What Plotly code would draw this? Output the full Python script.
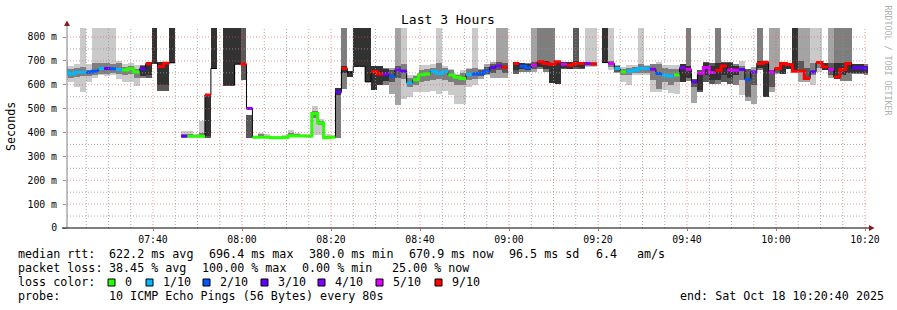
import plotly.graph_objects as go
from datetime import datetime, timedelta

# ---------------- data (ms) ----------------
T = 900  # value beyond the top of the graph (off scale)
STEP_S = 80
START = datetime(2025, 10, 18, 7, 19, 40)   # first 80 s step (partly clipped)
VIEW = ["2025-10-18 07:20:40", "2025-10-18 10:20:40"]

MED = [657, 645, 652, 652, 652, 657, 668, 668, 667, 664, 662, 667, 653, 667, 688, 690, 676, 690, 692, None,
       384, 384, 384, 384, 557, 668, None, 598, 598, 686, 686, 501, 380, 380, 380, 378, 378, 379, 386, 385,
       385, 385, 480, 440, 378, 380, 569, 668, 650, 677, 677, 612, 656, 645, 645, 636, 662, 657, 607, 621,
       642, 645, 657, 647, 654, 641, 631, 626, 643, 645, 647, 657, 672, 679, 673, None, 689, 678, 671, 682,
       696, 689, 686, 696, 686, 682, 689, 689, 689, 687, None, 693, 689, 668, 654, 657, 661, 668, 668, 665,
       647, 640, 637, 641, 671, 664, 612, 648, 672, 651, 661, 679, 662, 661, 664, 622, 654, 689, 694, 653,
       668, 689, 685, 657, 658, 626, 654, 693, 675, 664, 632, 664, 689, 671, 671, 668]
LOSS = [1, 1, 1, 1, 2, 2, 1, 3, 2, 1, 0, 0, 0, 3, 9, 10, 9, 9, 10, None,
        3, 0, 0, 0, 9, 10, None, 10, 10, 10, 9, 4, 0, 0, 0, 0, 0, 0, 0, 0,
        0, 0, 0, 0, 0, 0, 3, 9, 10, 10, 10, 10, 9, 9, 4, 2, 4, 3, 1, 0,
        0, 0, 1, 1, 1, 0, 0, 0, 1, 2, 2, 2, 3, 4, 9, None, 9, 2, 2, 5,
        9, 9, 9, 9, 5, 9, 9, 9, 4, 9, None, 10, 5, 1, 0, 1, 1, 1, 1, 4,
        2, 1, 1, 0, 4, 5, 3, 5, 5, 5, 9, 9, 5, 5, 3, 2, 4, 9, 9, 5,
        9, 9, 9, 9, 9, 9, 3, 9, 9, 5, 9, 9, 9, 3, 3, 3]
LO = [620, 612, 590, 570, 610, 630, 640, 635, 640, 625, 610, 612, 594, 627, 627, 690, 572, 572, 692, None,
      380, 378, 380, 378, 377, 668, None, 598, 598, 686, 620, 378, 378, 380, 378, 376, 376, 377, 380, 380,
      380, 380, 388, 389, 376, 378, 377, 584, 634, 677, 677, 612, 578, 600, 601, 563, 514, 540, 549, 570,
      570, 570, 575, 560, 575, 556, 521, 521, 591, 600, 626, 640, 630, 629, 629, None, 647, 654, 654, 654,
      668, 654, 607, 602, 668, 665, 668, 668, 675, 675, None, 693, 660, 650, 612, 601, 640, 640, 640, 570,
      570, 577, 565, 563, 612, 615, 525, 570, 612, 605, 605, 612, 605, 598, 556, 531, 518, 661, 549, 570,
      647, 647, 668, 654, 612, 612, 598, 654, 660, 629, 626, 615, 615, 643, 643, 640]
HI = [695, 680, 685, T, 688, T, T, T, T, 699, 685, 690, 683, 683, 697, T, 697, 697, T, None,
      408, 408, 395, 447, 560, T, None, T, T, T, T, 473, 385, 400, 393, 384, 385, 390, 410, 398,
      393, 388, 510, 455, 395, 390, 585, T, 658, T, T, T, 678, 678, 672, 672, T, T, 640, 640,
      682, 682, 685, T, 680, 668, 645, 660, 671, T, 668, 689, 695, T, T, None, 696, 693, 693, T,
      T, T, T, 700, 696, 696, T, 696, T, T, None, T, T, 682, 675, 682, 682, T, 682, 689,
      696, 682, 682, 682, 689, T, 626, 660, 696, 690, T, 696, 696, 689, 699, 668, 675, T, 694, T,
      T, 696, 693, T, T, T, T, T, 693, T, T, T, T, 689, 689, 685]
ILO = [640, 630, 632, 635, 637, 640, 645, 645, 648, 645, 640, 645, 630, 635, 640, 690, 600, 600, 692, None,
       382, 382, 382, 382, 385, 668, None, 598, 598, 686, 686, 400, 379, 386, 379, 377, 377, 378, 384, 382,
       382, 382, 460, 430, 377, 379, 555, 650, 634, 677, 677, 612, 578, 600, 615, 610, 630, 625, 590, 600,
       610, 615, 620, 625, 620, 610, 600, 600, 620, 625, 635, 645, 650, 660, 650, None, 660, 665, 660, 665,
       675, 665, 607, 602, 670, 668, 675, 672, 680, 680, None, 693, 675, 655, 640, 640, 648, 650, 650, 619,
       584, 610, 600, 610, 612, 630, 591, 580, 640, 620, 620, 640, 630, 640, 620, 549, 600, 670, 549, 590,
       650, 647, 668, 654, 654, 626, 640, 670, 660, 640, 626, 640, 650, 650, 650, 650]
IHI = [670, 665, 670, 675, 662, 690, 690, 690, 688, 690, 675, 680, 665, 680, 695, T, 697, 697, T, None,
       395, 392, 390, 398, 557, T, None, T, T, T, 686, 400, 383, 395, 386, 381, 381, 384, 400, 392,
       390, 386, 490, 450, 385, 386, 585, 680, 658, T, T, T, 678, 678, 665, 660, 680, 685, 630, 635,
       660, 665, 670, 690, 670, 660, 640, 650, 665, 670, 660, 675, 685, 695, 690, None, 696, 690, 688, 695,
       700, 700, 690, 700, 694, 694, 698, 694, 695, 695, None, T, 700, 678, 668, 670, 675, 685, 678, 685,
       685, 670, 665, 665, 689, 680, 626, 650, 690, 680, 690, 690, 690, 680, 680, 668, 654, 700, 694, 660,
       670, 696, 693, T, 700, 670, 690, 700, 693, 690, 690, 690, 695, 685, 685, 680]
SHADE = [0, 0, 0, 0, 0, 0, 0, 0, 0, 0, 0, 0, 0, 2, 3, 4, 3, 3, 4, None,
         0, 0, 0, 0, 3, 4, None, 4, 4, 4, 3, 3, 0, 0, 0, 0, 0, 0, 0, 0,
         0, 0, 0, 0, 0, 0, 2, 2, 4, 4, 4, 4, 4, 4, 2, 1, 1, 0, 0, 0,
         0, 0, 0, 0, 0, 0, 0, 0, 0, 0, 1, 1, 1, 1, 1, None, 3, 2, 2, 1,
         2, 2, 2, 3, 3, 3, 3, 3, 0, 0, None, 4, 0, 1, 0, 0, 0, 0, 0, 0,
         0, 0, 0, 0, 3, 2, 1, 3, 3, 3, 2, 3, 3, 2, 0, 1, 1, 2, 4, 1,
         1, 4, 4, 4, 1, 1, 0, 0, 3, 1, 2, 2, 2, 2, 2, 2]

GREYS = ["#cacaca", "#a4a4a4", "#7e7e7e", "#585858", "#323232"]
LOSS_LEVELS = [0, 1, 2, 3, 4, 5, 9]
LOSS_COLORS = ["#26ff00", "#00b8ff", "#0059ff", "#5e00ff", "#7e00ff", "#dd00ff", "#ff0000"]
LOSS_LABELS = ["0", "1/10", "2/10", "3/10", "4/10", "5/10", "9/10"]

Y_TICKS = [0, 0.1, 0.2, 0.3, 0.4, 0.5, 0.6, 0.7, 0.8]
Y_TICKTEXT = ["0", "100 m", "200 m", "300 m", "400 m", "500 m", "600 m", "700 m", "800 m"]
Y_MAX = 0.8377

STATS_RTT = ["median rtt:", "622.2 ms avg", "696.4 ms max", "380.0 ms min", "670.9 ms now", "96.5 ms sd", "6.4", "am/s"]
STATS_LOSS = ["packet loss:", "38.45 % avg", "100.00 % max", "0.00 % min", "25.00 % now"]
PROBE = "10 ICMP Echo Pings (56 Bytes) every 80s"
END_TEXT = "end: Sat Oct 18 10:20:40 2025"

# ---------------- helpers ----------------
N = len(MED)
starts = [START + timedelta(seconds=STEP_S * k) for k in range(N + 1)]
centers = [START + timedelta(seconds=STEP_S * k + STEP_S / 2) for k in range(N)]

L, R, TOP, BOT = 67, 868, 28, 228
W, H = 897, 310


def px(x):
    return (x - L) / (R - L)


def py(y):
    return (BOT - y) / (BOT - TOP)


def level_of(loss):
    if loss is None:
        return None
    for i, lv in enumerate(LOSS_LEVELS):
        if loss <= lv:
            return i
    return None


def band(lo, hi, shade_idx):
    xs, bases, ys, cols = [], [], [], []
    for k in range(N):
        if lo[k] is None or hi[k] is None or hi[k] <= lo[k]:
            continue
        xs.append(centers[k])
        bases.append(lo[k] / 1000)
        ys.append((hi[k] - lo[k]) / 1000)
        cols.append(GREYS[shade_idx[k]])
    return go.Bar(x=xs, y=ys, base=bases, width=STEP_S * 1000,
                  marker=dict(color=cols, line=dict(width=0)),
                  hoverinfo="skip", showlegend=False)


def step_runs(mask):
    xs, ys = [], []
    k = 0
    while k < N:
        if mask(k):
            j = k
            while j + 1 < N and mask(j + 1):
                j += 1
            for i in range(k, j + 1):
                xs.append(starts[i])
                ys.append(MED[i] / 1000)
            xs.append(starts[j + 1])
            ys.append(MED[j] / 1000)
            xs.append(None)
            ys.append(None)
            k = j + 1
        else:
            k += 1
    return xs, ys


fig = go.Figure()

outer_shade = [s if s is not None else 0 for s in SHADE]
inner_shade = [min(s + 2, 4) for s in outer_shade]
fig.add_trace(band(LO, HI, outer_shade))
fig.add_trace(band(ILO, IHI, inner_shade))

bx, by = step_runs(lambda k: MED[k] is not None)
fig.add_trace(go.Scatter(x=bx, y=by, mode="lines", line=dict(color="#000000", width=1, shape="hv"),
                         hoverinfo="skip", showlegend=False, connectgaps=False))

for li, col in enumerate(LOSS_COLORS):
    cx, cy = step_runs(lambda k, li=li: MED[k] is not None and level_of(LOSS[k]) == li)
    if cx:
        fig.add_trace(go.Scatter(x=cx, y=cy, mode="lines", line=dict(color=col, width=3, shape="hv"),
                                 hoverinfo="skip", showlegend=False, connectgaps=False))

MAJOR = "rgba(235,80,80,0.6)"
MINOR = "rgba(150,150,150,0.8)"
DASH = "1px,2px"

fig.update_layout(
    width=W, height=H,
    margin=dict(l=L, r=W - R, t=TOP, b=H - BOT, pad=0),
    paper_bgcolor="white", plot_bgcolor="white",
    barmode="overlay", bargap=0, showlegend=False,
    font=dict(family="DejaVu Sans Mono", size=10, color="#000000"),
    xaxis=dict(type="date", range=VIEW, tickformat="%H:%M", dtick=1200000,
               tick0="2025-10-18 07:40:00", showgrid=False,
               zeroline=False, showline=False, ticks="outside", ticklen=2,
               tickcolor="rgba(220,60,60,0.8)", tickfont=dict(size=9.8), fixedrange=True),
    yaxis=dict(range=[0, Y_MAX], tickvals=Y_TICKS, ticktext=Y_TICKTEXT, showgrid=False,
               zeroline=False, showline=False, ticks="outside", ticklen=3,
               tickcolor="rgba(120,120,120,0.8)", tickfont=dict(size=9.8),
               ticklabelstandoff=4, fixedrange=True),
)

shapes = []
# grid drawn above the smoke, as rrdtool does (5 min / 50 ms minor, 20 min / 100 ms major)
g = datetime(2025, 10, 18, 7, 25, 0)
gend = datetime(2025, 10, 18, 10, 20, 40)
while g <= gend:
    major = (g.minute % 20 == 0)
    shapes.append(dict(type="line", xref="x", yref="paper", x0=g, x1=g, y0=0, y1=1, layer="above",
                       line=dict(color=MAJOR if major else MINOR, width=1, dash=DASH)))
    g += timedelta(minutes=5)
for i in range(1, 17):
    v = i * 0.05
    major = (i % 2 == 0)
    shapes.append(dict(type="line", xref="paper", yref="y", x0=0, x1=1, y0=v, y1=v, layer="above",
                       line=dict(color=MAJOR if major else MINOR, width=1, dash=DASH)))

shapes += [
    dict(type="line", xref="paper", yref="paper", x0=px(67), x1=px(67), y0=py(228), y1=py(24),
         line=dict(color="#808080", width=1)),
    dict(type="line", xref="paper", yref="paper", x0=px(62), x1=px(870), y0=py(228), y1=py(228),
         line=dict(color="#000000", width=1)),
    dict(type="path", xref="paper", yref="paper", fillcolor="#8b1a1a", line=dict(width=0),
         path=f"M {px(64)} {py(26)} L {px(70)} {py(26)} L {px(67)} {py(20.5)} Z"),
    dict(type="path", xref="paper", yref="paper", fillcolor="#8b1a1a", line=dict(width=0),
         path=f"M {px(869)} {py(225)} L {px(869)} {py(231)} L {px(874.5)} {py(228)} Z"),
]

annotations = []


def text(x, y, s, size=11.7, color="#000000", anchor="left", angle=0):
    annotations.append(dict(xref="paper", yref="paper", x=px(x), y=py(y), text=s.replace(" ", "\u00a0"),
                            showarrow=False, xanchor=anchor, yanchor="middle", textangle=angle,
                            font=dict(family="DejaVu Sans Mono", size=size, color=color)))


text(448, 20, "Last 3 Hours", size=13, anchor="center")
text(11, 127, "Seconds", size=11.7, anchor="center", angle=-90)
text(887.5, 60, "RRDTOOL / TOBI OETIKER", size=8.3, color="#b0b0b0", anchor="center", angle=90)

for s, x in zip(STATS_RTT, [16, 107, 207, 307, 407, 507, 594, 635]):
    text(x, 254, s)
for s, x in zip(STATS_LOSS, [16, 107, 200, 300, 390]):
    text(x, 268, s)
text(16, 282, "loss color:")
for lab, col, bxp in zip(LOSS_LABELS, LOSS_COLORS, [108, 146, 203, 261, 318, 376, 435]):
    shapes.append(dict(type="rect", xref="paper", yref="paper", x0=px(bxp), x1=px(bxp + 7),
                       y0=py(286), y1=py(279), fillcolor=col, line=dict(color="#000000", width=1)))
    text(bxp + 15, 282, lab)
text(16, 296, "probe:")
text(107, 296, PROBE)
text(678, 296, END_TEXT)

fig.update_layout(shapes=shapes, annotations=annotations)
fig.write_html("out.html")
